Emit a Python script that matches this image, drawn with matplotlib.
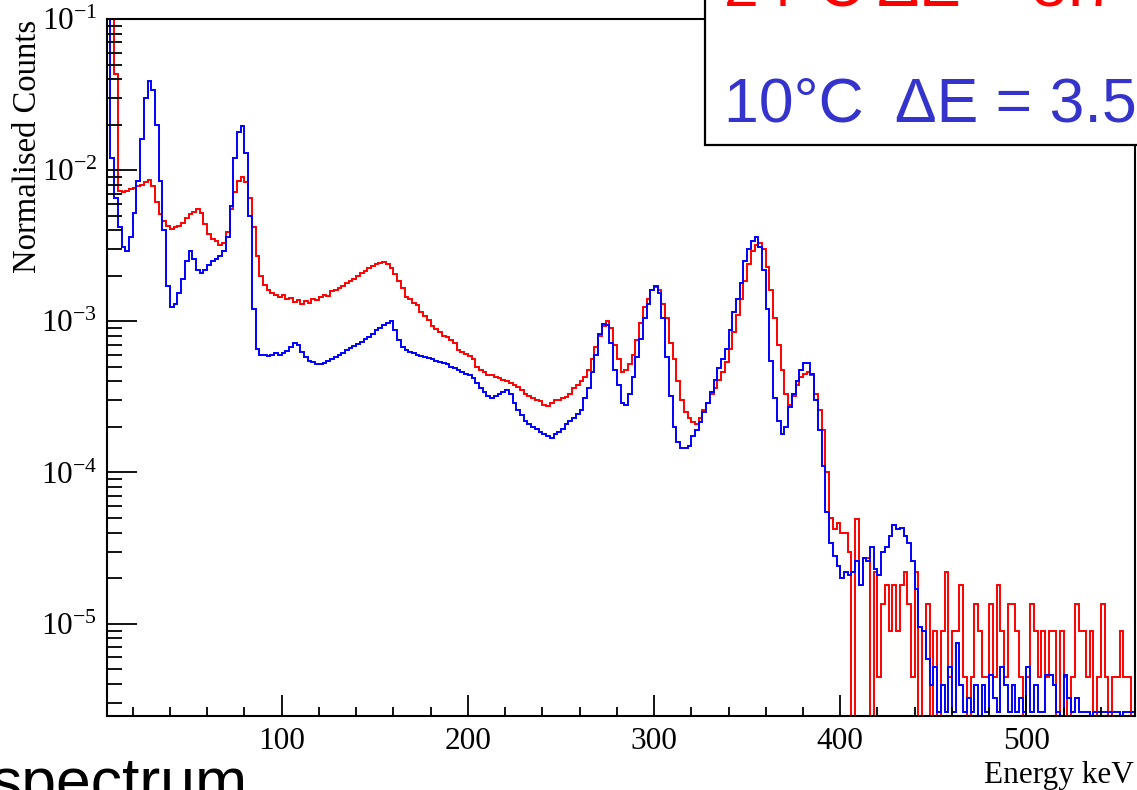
import numpy as np
import matplotlib
matplotlib.use("Agg")
import matplotlib.pyplot as plt
from matplotlib.patches import Rectangle
from matplotlib.ticker import LogLocator, MultipleLocator, NullFormatter

plt.rcParams['font.family'] = ['Liberation Serif', 'DejaVu Serif']
plt.rcParams['mathtext.fontset'] = 'custom'
plt.rcParams['mathtext.rm'] = 'Liberation Serif'
plt.rcParams['mathtext.it'] = 'Liberation Serif:italic'

# histogram binning (keV), 2 keV bins
bin_start = 6
bin_width = 2

# 24 C run (red), normalised counts per bin
counts_24c = [
    0.2, 0.2, 4.3e-2, 7.3e-3, 7.2e-3, 7.3e-3, 7.5e-3, 7.6e-3, 7.8e-3, 8.0e-3,
    8.3e-3, 8.6e-3, 7.8e-3, 6.2e-3, 5.1e-3, 4.6e-3, 4.3e-3, 4.1e-3, 4.2e-3, 4.3e-3,
    4.5e-3, 4.8e-3, 5.1e-3, 5.3e-3, 5.5e-3, 5.2e-3, 4.4e-3, 3.8e-3, 3.5e-3, 3.4e-3,
    3.2e-3, 3.3e-3, 3.9e-3, 5.5e-3, 7.2e-3, 8.5e-3, 9.0e-3, 8.3e-3, 6.5e-3, 4.2e-3,
    2.7e-3, 2.0e-3, 1.75e-3, 1.6e-3, 1.55e-3, 1.5e-3, 1.45e-3, 1.5e-3, 1.4e-3, 1.42e-3,
    1.35e-3, 1.38e-3, 1.3e-3, 1.36e-3, 1.33e-3, 1.4e-3, 1.38e-3, 1.45e-3, 1.5e-3, 1.48e-3,
    1.58e-3, 1.62e-3, 1.66e-3, 1.72e-3, 1.8e-3, 1.85e-3, 1.92e-3, 2.0e-3, 2.08e-3, 2.15e-3,
    2.25e-3, 2.32e-3, 2.4e-3, 2.45e-3, 2.48e-3, 2.4e-3, 2.25e-3, 2.05e-3, 1.85e-3, 1.65e-3,
    1.45e-3, 1.4e-3, 1.32e-3, 1.28e-3, 1.15e-3, 1.08e-3, 1.02e-3, 9.3e-4, 8.9e-4, 8.5e-4,
    8.0e-4, 7.9e-4, 7.5e-4, 7.2e-4, 6.5e-4, 6.3e-4, 6.1e-4, 5.9e-4, 5.6e-4, 5.0e-4,
    4.8e-4, 4.6e-4, 4.4e-4, 4.4e-4, 4.3e-4, 4.2e-4, 4.1e-4, 4.0e-4, 3.9e-4, 3.8e-4,
    3.7e-4, 3.5e-4, 3.3e-4, 3.2e-4, 3.1e-4, 3.0e-4, 2.95e-4, 2.8e-4, 2.75e-4, 2.9e-4,
    3.0e-4, 3.0e-4, 3.1e-4, 3.15e-4, 3.3e-4, 3.6e-4, 3.8e-4, 4.0e-4, 4.3e-4, 4.8e-4,
    5.6e-4, 6.8e-4, 8.0e-4, 9.3e-4, 1.0e-3, 9.0e-4, 7.0e-4, 5.6e-4, 4.6e-4, 4.8e-4,
    5.2e-4, 6.0e-4, 7.5e-4, 9.8e-4, 1.25e-3, 1.4e-3, 1.6e-3, 1.68e-3, 1.6e-3, 1.3e-3,
    1.05e-3, 7.2e-4, 5.6e-4, 4.0e-4, 3.0e-4, 2.5e-4, 2.3e-4, 2.15e-4, 2.1e-4, 2.3e-4,
    2.6e-4, 2.9e-4, 3.3e-4, 3.6e-4, 4.1e-4, 4.6e-4, 5.4e-4, 6.6e-4, 8.5e-4, 1.1e-3,
    1.4e-3, 1.85e-3, 2.4e-3, 2.9e-3, 3.2e-3, 3.3e-3, 3.0e-3, 2.3e-3, 1.6e-3, 1.05e-3,
    7.0e-4, 4.8e-4, 3.3e-4, 2.8e-4, 3.2e-4, 3.8e-4, 4.3e-4, 4.5e-4, 4.6e-4, 4.4e-4,
    3.3e-4, 2.6e-4, 1.9e-4, 1.0e-4, 5.0e-5, 4.2e-5, 4.6e-5, 4.0e-5, 4.0e-5, 3.0e-5,
    0, 4.9e-5, 1.8e-5, 2.7e-5, 2.7e-5, 0, 2.2e-5, 4.45e-6, 1.34e-5, 1.8e-5,
    8.9e-6, 1.8e-5, 8.9e-6, 1.8e-5, 2.2e-5, 1.34e-5, 4.45e-6, 2.2e-5, 0, 8.9e-6,
    1.34e-5, 0, 8.9e-6, 0, 8.9e-6, 2.2e-5, 4.45e-6, 8.9e-6, 8.9e-6, 1.8e-5,
    4.45e-6, 0, 4.45e-6, 1.34e-5, 8.9e-6, 4.45e-6, 4.45e-6, 1.34e-5, 4.45e-6, 1.8e-5,
    8.9e-6, 4.45e-6, 1.34e-5, 1.34e-5, 8.9e-6, 4.45e-6, 0, 4.45e-6, 1.34e-5, 8.9e-6,
    4.45e-6, 8.9e-6, 4.45e-6, 8.9e-6, 8.9e-6, 0, 8.9e-6, 4.45e-6, 0, 4.45e-6,
    1.34e-5, 8.9e-6, 8.9e-6, 4.45e-6, 8.9e-6, 0, 4.45e-6, 1.34e-5, 4.45e-6, 0,
    4.45e-6, 4.45e-6, 8.9e-6, 4.45e-6, 4.45e-6, 0,
]

# 10 C run (blue)
counts_10c = [
    0.12, 1.2e-2, 6.5e-3, 4.2e-3, 3.1e-3, 2.9e-3, 3.6e-3, 5.2e-3, 8.5e-3, 1.6e-2,
    3.0e-2, 3.9e-2, 3.4e-2, 2.0e-2, 8.5e-3, 4.0e-3, 1.7e-3, 1.25e-3, 1.3e-3, 1.55e-3,
    1.9e-3, 2.5e-3, 2.9e-3, 2.6e-3, 2.2e-3, 2.1e-3, 2.2e-3, 2.35e-3, 2.5e-3, 2.6e-3,
    2.7e-3, 2.9e-3, 3.6e-3, 5.8e-3, 1.2e-2, 1.8e-2, 1.95e-2, 1.3e-2, 5.0e-3, 1.2e-3,
    6.6e-4, 6.0e-4, 6.0e-4, 5.9e-4, 6.0e-4, 6.2e-4, 6.0e-4, 6.2e-4, 6.4e-4, 6.8e-4,
    7.2e-4, 7.0e-4, 6.3e-4, 5.8e-4, 5.5e-4, 5.4e-4, 5.2e-4, 5.2e-4, 5.3e-4, 5.5e-4,
    5.6e-4, 5.8e-4, 6.0e-4, 6.2e-4, 6.5e-4, 6.7e-4, 6.9e-4, 7.1e-4, 7.3e-4, 7.6e-4,
    7.9e-4, 8.3e-4, 8.8e-4, 9.1e-4, 9.5e-4, 9.8e-4, 1.0e-3, 8.8e-4, 7.5e-4, 6.8e-4,
    6.5e-4, 6.3e-4, 6.2e-4, 6.0e-4, 5.9e-4, 5.8e-4, 5.7e-4, 5.6e-4, 5.5e-4, 5.4e-4,
    5.3e-4, 5.2e-4, 5.0e-4, 4.9e-4, 4.8e-4, 4.6e-4, 4.5e-4, 4.4e-4, 4.2e-4, 3.9e-4,
    3.6e-4, 3.4e-4, 3.2e-4, 3.1e-4, 3.2e-4, 3.3e-4, 3.4e-4, 3.5e-4, 3.3e-4, 2.9e-4,
    2.6e-4, 2.4e-4, 2.2e-4, 2.1e-4, 2.0e-4, 1.95e-4, 1.85e-4, 1.8e-4, 1.75e-4, 1.7e-4,
    1.8e-4, 1.85e-4, 1.95e-4, 2.1e-4, 2.2e-4, 2.3e-4, 2.45e-4, 2.6e-4, 3.1e-4, 3.6e-4,
    4.6e-4, 6.0e-4, 8.2e-4, 9.6e-4, 9.4e-4, 7.2e-4, 4.8e-4, 3.8e-4, 2.9e-4, 2.8e-4,
    3.3e-4, 4.3e-4, 5.8e-4, 7.6e-4, 1.05e-3, 1.3e-3, 1.6e-3, 1.72e-3, 1.55e-3, 1.05e-3,
    5.8e-4, 3.2e-4, 2.0e-4, 1.6e-4, 1.45e-4, 1.45e-4, 1.5e-4, 1.75e-4, 1.9e-4, 2.15e-4,
    2.5e-4, 2.9e-4, 3.4e-4, 4.1e-4, 4.9e-4, 5.6e-4, 6.6e-4, 8.8e-4, 1.15e-3, 1.4e-3,
    1.8e-3, 2.5e-3, 3.0e-3, 3.4e-3, 3.6e-3, 3.1e-3, 2.2e-3, 1.2e-3, 5.5e-4, 3.1e-4,
    2.2e-4, 1.8e-4, 2.0e-4, 2.7e-4, 3.3e-4, 4.0e-4, 4.8e-4, 5.3e-4, 5.3e-4, 4.5e-4,
    3.0e-4, 1.9e-4, 1.1e-4, 5.5e-5, 3.4e-5, 2.8e-5, 2.4e-5, 2.0e-5, 2.2e-5, 2.1e-5,
    2.2e-5, 2.6e-5, 1.8e-5, 2.7e-5, 2.6e-5, 3.2e-5, 2.3e-5, 2.1e-5, 3.0e-5, 3.2e-5,
    3.8e-5, 4.5e-5, 4.2e-5, 4.3e-5, 3.8e-5, 3.4e-5, 2.6e-5, 1.7e-5, 9.5e-6, 8.9e-6,
    5.8e-6, 3.9e-6, 5.2e-6, 2.6e-6, 3.9e-6, 2.6e-6, 5.2e-6, 2.6e-6, 7.5e-6, 3.9e-6,
    2.6e-6, 3.2e-6, 2.6e-6, 3.9e-6, 0, 3.9e-6, 2.6e-6, 4.6e-6, 3.2e-6, 2.6e-6,
    5.2e-6, 3.9e-6, 2.6e-6, 3.9e-6, 2.6e-6, 3.2e-6, 2.6e-6, 5.2e-6, 2.6e-6, 3.9e-6,
    2.6e-6, 2.6e-6, 4.6e-6, 4.6e-6, 3.9e-6, 2.6e-6, 0, 4.6e-6, 3.2e-6, 2.6e-6,
    3.2e-6, 2.6e-6, 2.6e-6, 2.6e-6, 0, 2.6e-6, 2.6e-6, 2.6e-6, 2.6e-6, 2.6e-6,
    2.6e-6, 2.6e-6, 0, 2.6e-6, 2.6e-6, 2.6e-6,
]

y_ticks = [1e-5, 1e-4, 1e-3, 1e-2, 1e-1]
y_ticklabels = [r'$10^{-5}$', r'$10^{-4}$', r'$10^{-3}$', r'$10^{-2}$', r'$10^{-1}$']
x_ticks = [100, 200, 300, 400, 500]
legend_lines = ['24$\\mathregular{°}$C  $\\Delta$E = 3.7', '10°C  ΔE = 3.5']

W, H = 1137, 790
fig = plt.figure(figsize=(W / 100, H / 100), dpi=100)
ax = fig.add_axes([107 / W, 1 - 716 / H, (1135 - 107) / W, (716 - 19) / H])

edges = bin_start + bin_width * np.arange(len(counts_10c) + 1)
ax.set_yscale('log', nonpositive='clip')
ax.stairs(counts_24c, edges, baseline=None, color='#ff0000', lw=1.4)
ax.stairs(counts_10c, edges, baseline=None, color='#0000ff', lw=1.4)

ax.set_xlim(6.2, 558.3)
ax.set_ylim(2.45e-6, 0.1)

ax.set_xticks(x_ticks)
ax.set_xticklabels([str(t) for t in x_ticks])
ax.xaxis.set_minor_locator(MultipleLocator(20))
ax.set_yticks(y_ticks)
ax.set_yticklabels(y_ticklabels)
ax.yaxis.set_minor_locator(LogLocator(base=10, subs=np.arange(2, 10)))
ax.yaxis.set_minor_formatter(NullFormatter())

ax.tick_params(axis='both', which='both', direction='in', top=False, right=False,
               width=1.3, labelsize=22.5, colors='black')
ax.tick_params(axis='x', which='major', length=15, pad=8)
ax.tick_params(axis='x', which='minor', length=6.5)
ax.tick_params(axis='y', which='major', length=21.5, pad=7)
ax.tick_params(axis='y', which='minor', length=10.5)
for s in ax.spines.values():
    s.set_linewidth(1.5)

fig.text(28 / W, 1 - 20 / H, 'Normalised Counts', rotation=90, ha='center', va='top',
         fontsize=23.5)
fig.text(1134 / W, 1 - 783 / H, 'Energy keV', ha='right', va='baseline', fontsize=22.5)

# legend box in the top right corner
box = Rectangle((705 / W, 1 - 145 / H), 1.0, 1.0, transform=fig.transFigure,
                facecolor='white', edgecolor='black', lw=1.6, zorder=10)
fig.add_artist(box)
fig.text(724 / W, 1 - 6 / H, '24°C ΔE = 3.7', color='#ff0000', fontsize=45,
         family='Liberation Sans', ha='left', va='baseline', zorder=11)
fig.text(724 / W, 1 - 121 / H, '10°C  ΔE = 3.5', color='#3434cc', fontsize=45,
         family='Liberation Sans', ha='left', va='baseline', zorder=11)

fig.text(-10 / W, 1 - 802 / H, 'spectrum', color='black', fontsize=45,
         family='Liberation Sans', ha='left', va='baseline')

fig.savefig('out.png', dpi=100)
